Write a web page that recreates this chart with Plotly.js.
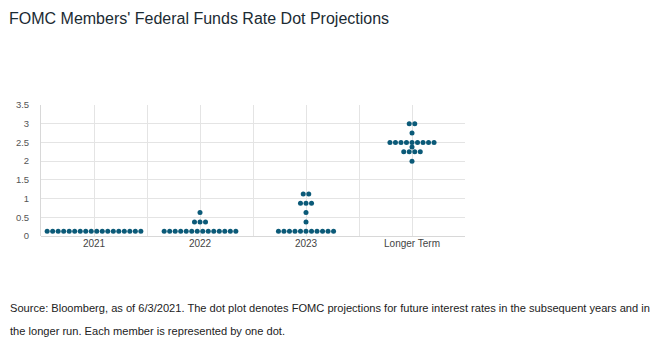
<!DOCTYPE html>
<html>
<head>
<meta charset="utf-8">
<script src="https://cdn.plot.ly/plotly-3.0.1.min.js"></script>
<style>html,body{margin:0;padding:0;background:#fff;}#chart{width:658px;height:350px;}</style>
</head>
<body>
<div id="chart"></div>
<script>
// Categories (horizon) and dot-plot data: rate level -> number of members
const categories = ["2021", "2022", "2023", "Longer Term"];
const rates2021 = [0.125];
const counts2021 = [18];
const rates2022 = [0.125, 0.375, 0.625];
const counts2022 = [14, 3, 1];
const rates2023 = [0.125, 0.375, 0.625, 0.875, 1.125];
const counts2023 = [11, 1, 1, 3, 2];
const ratesLonger = [2.0, 2.25, 2.375, 2.5, 2.75, 3.0];
const countsLonger = [1, 4, 1, 9, 1, 2];
const yTicks = [0, 0.5, 1, 1.5, 2, 2.5, 3, 3.5];
const yTickText = ["0", "0.5", "1", "1.5", "2", "2.5", "3", "3.5"];

const groups = [
  [rates2021, counts2021],
  [rates2022, counts2022],
  [rates2023, counts2023],
  [ratesLonger, countsLonger]
];
const spacing = 0.052; // horizontal gap between neighbouring dots (category units)
const xs = [], ys = [];
groups.forEach(function (g, ci) {
  const rates = g[0], counts = g[1];
  rates.forEach(function (r, k) {
    const n = counts[k];
    for (let i = 0; i < n; i++) {
      xs.push(ci + (i - (n - 1) / 2) * spacing);
      ys.push(r);
    }
  });
});

const data = [{
  type: "scatter",
  mode: "markers",
  x: xs,
  y: ys,
  marker: {color: "#0b5a78", size: 5, line: {width: 0}},
  hoverinfo: "skip"
}];

const layout = {
  width: 658,
  height: 350,
  margin: {l: 41, r: 193, t: 105, b: 114},
  paper_bgcolor: "#ffffff",
  plot_bgcolor: "#ffffff",
  showlegend: false,
  font: {family: "Liberation Sans, Arial, sans-serif", color: "#444"},
  title: {
    text: "FOMC Members' Federal Funds Rate Dot Projections",
    x: 0.0137, xanchor: "left", xref: "container",
    y: 0.947, yanchor: "middle", yref: "container",
    font: {family: "Liberation Sans, Arial, sans-serif", size: 16, color: "#1b2b33"}
  },
  xaxis: {
    range: [-0.5, 3.5],
    tickmode: "array",
    tickvals: [0, 1, 2, 3],
    ticktext: categories,
    showgrid: true,
    gridcolor: "#e4e4e4",
    gridwidth: 1,
    zeroline: false,
    showline: false,
    ticks: "",
    tickfont: {size: 10, color: "#444"},
    minor: {tickmode: "array", tickvals: [-0.5, 0.5, 1.5, 2.5, 3.5], showgrid: true, gridcolor: "#e4e4e4", gridwidth: 1, ticks: ""},
    fixedrange: true
  },
  yaxis: {
    range: [0, 3.5],
    tickmode: "array",
    tickvals: yTicks,
    ticktext: yTickText,
    showgrid: true,
    gridcolor: "#e4e4e4",
    gridwidth: 1,
    zeroline: true,
    zerolinecolor: "#d8d8d8",
    zerolinewidth: 1,
    showline: true,
    linecolor: "#d8d8d8",
    linewidth: 1,
    ticks: "",
    ticklabelstandoff: 9,
    tickfont: {size: 9.5, color: "#555"},
    fixedrange: true
  },
  annotations: [
    {
      text: "Source: Bloomberg, as of 6/3/2021. The dot plot denotes FOMC projections for future interest rates in the subsequent years and in",
      xref: "paper", yref: "paper", x: -0.078, y: -0.55, xanchor: "left", yanchor: "middle",
      showarrow: false, font: {size: 11.1, color: "#222"}
    },
    {
      text: "the longer run. Each member is represented by one dot.",
      xref: "paper", yref: "paper", x: -0.078, y: -0.725, xanchor: "left", yanchor: "middle",
      showarrow: false, font: {size: 11.1, color: "#222"}
    }
  ]
};

Plotly.newPlot("chart", data, layout, {displayModeBar: false, staticPlot: true});
</script>
</body>
</html>
